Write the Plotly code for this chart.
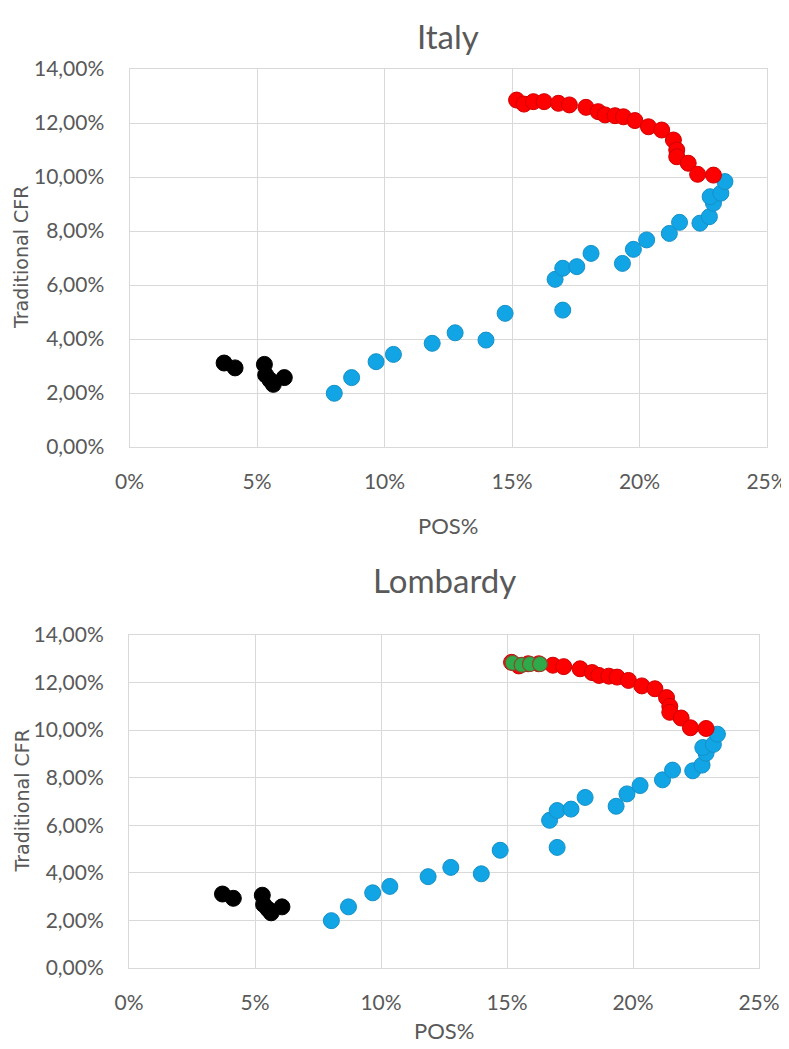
import plotly.graph_objects as go

# ---- data (values in percent) ----
black_pos = [3.71, 4.14, 5.29, 5.34, 5.51, 5.64, 6.07]
black_cfr = [3.11, 2.93, 3.06, 2.67, 2.48, 2.32, 2.57]

blue_pos = [8.03, 8.71, 9.67, 10.35, 11.87, 12.77, 13.98, 14.73, 16.99, 16.69, 16.99,
            17.54, 18.10, 19.33, 19.76, 20.28, 21.17, 21.57, 22.37, 22.74, 22.90,
            22.77, 23.19, 23.35]
blue_cfr = [1.99, 2.57, 3.16, 3.43, 3.84, 4.23, 3.96, 4.95, 5.07, 6.21, 6.62,
            6.68, 7.17, 6.80, 7.32, 7.67, 7.91, 8.32, 8.29, 8.53, 9.03,
            9.27, 9.40, 9.83]

red_pos = [15.18, 15.47, 15.84, 16.26, 16.82, 17.25, 17.90, 18.38, 18.65, 19.04,
           19.37, 19.82, 20.35, 20.87, 21.33, 21.46, 21.46, 21.91, 22.28, 22.90]
red_cfr = [12.85, 12.70, 12.79, 12.79, 12.73, 12.67, 12.58, 12.42, 12.30, 12.27,
           12.23, 12.09, 11.86, 11.74, 11.37, 11.00, 10.75, 10.51, 10.10, 10.07]

green_pos = [15.22, 15.58, 15.91, 16.31]
green_cfr = [12.83, 12.74, 12.78, 12.78]

titles = ["Italy", "Lombardy"]
x_title = "POS%"
y_title = "Traditional CFR"

FONT = "Lato"
GREY = "#595959"
GRID = "#d9d9d9"

# page has an 8px body margin, so the figure is drawn 8px in from the window edge
OFF = 8
W, H = 789 - OFF, 1049 - OFF

def px_x(p):
    return (p - OFF) / W

def px_y(p):
    return 1 - (p - OFF) / H

fig = go.Figure()

def add_series(xa, ya, showgreen):
    kw = dict(xaxis=xa, yaxis=ya, mode="markers", showlegend=False, hoverinfo="x+y")
    fig.add_trace(go.Scatter(x=black_pos, y=black_cfr,
                             marker=dict(size=16, color="#000000", line=dict(color="#000000", width=1)), **kw))
    fig.add_trace(go.Scatter(x=blue_pos, y=blue_cfr,
                             marker=dict(size=16, color="#12A5E6", line=dict(color="#1490c8", width=1)), **kw))
    fig.add_trace(go.Scatter(x=red_pos, y=red_cfr,
                             marker=dict(size=16, color="#FF0000", line=dict(color="#d00000", width=1)), **kw))
    if showgreen:
        fig.add_trace(go.Scatter(x=green_pos, y=green_cfr,
                                 marker=dict(size=15, color="#2EAA4A", line=dict(color="#8a4a2a", width=1.2)), **kw))

add_series("x", "y", False)
add_series("x2", "y2", True)

# plot-area pixel geometry in window pixels: (left, right, top, bottom)
boxes = [(129.5, 767, 69, 447), (129, 759, 635, 968)]
title_y = [36, 580]
xtitle_y = [526, 1030]

axcommon = dict(showgrid=True, gridcolor=GRID, gridwidth=1, showline=True, linecolor=GRID,
                linewidth=1, mirror=True, zeroline=False, ticks="", automargin=False,
                tickfont=dict(family=FONT, size=21, color=GREY))

layout = dict(width=W, height=H, margin=dict(l=0, r=0, t=0, b=0),
              paper_bgcolor="white", plot_bgcolor="white", separators=",.",
              font=dict(family=FONT, color=GREY))

annotations = []
for i, (l, r, t, b) in enumerate(boxes):
    sfx = "" if i == 0 else "2"
    layout["xaxis" + sfx] = dict(axcommon, domain=[px_x(l), px_x(r)], range=[0, 25], dtick=5,
                                 tickformat=".0f", ticksuffix="%", anchor="y" + sfx,
                                 ticklabelstandoff=16)
    layout["yaxis" + sfx] = dict(axcommon, domain=[px_y(b), px_y(t)], range=[0, 14], dtick=2,
                                 tickformat=".2f", ticksuffix="%", anchor="x" + sfx,
                                 ticklabelstandoff=20)
    annotations.append(dict(text=titles[i], x=px_x((l + r) / 2), y=px_y(title_y[i]),
                            xref="paper", yref="paper", showarrow=False,
                            font=dict(family=FONT, size=33, color=GREY), xanchor="center", yanchor="middle"))
    annotations.append(dict(text=x_title, x=px_x((l + r) / 2), y=px_y(xtitle_y[i]),
                            xref="paper", yref="paper", showarrow=False,
                            font=dict(family=FONT, size=22, color=GREY), xanchor="center", yanchor="middle"))
    annotations.append(dict(text=y_title, x=0, y=px_y((t + b) / 2),
                            xref="paper", yref="paper", showarrow=False, textangle=-90,
                            font=dict(family="DejaVu Sans", size=19, color=GREY), xanchor="left", yanchor="middle"))

layout["annotations"] = annotations
fig.update_layout(**layout)
fig.write_html("out.html")
